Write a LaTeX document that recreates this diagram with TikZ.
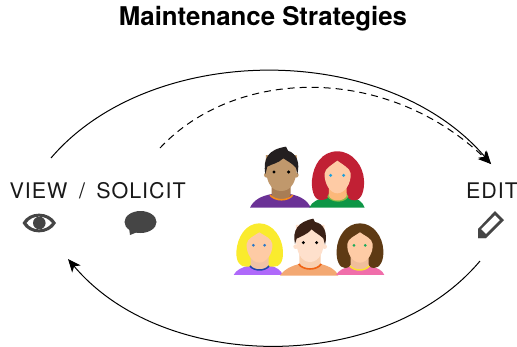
\documentclass[tikz,border=0pt]{standalone}
\usepackage{fontspec}
\setmainfont{TeX Gyre Heros}
\newfontfamily\spaced[LetterSpace=4.5]{TeX Gyre Heros}
\usetikzlibrary{arrows.meta}
\definecolor{icon}{HTML}{454545}
\definecolor{purpleA}{HTML}{6B3296}
\definecolor{neckA}{HTML}{A87D55}
\definecolor{orangeA}{HTML}{F58C1E}
\definecolor{skinA}{HTML}{C0986C}
\definecolor{hairA}{HTML}{231F20}
\definecolor{greenB}{HTML}{0E9646}
\definecolor{redB}{HTML}{C12034}
\definecolor{collarB}{HTML}{82BE46}
\definecolor{neckB}{HTML}{FCB87A}
\definecolor{skinB}{HTML}{FECBA5}
\definecolor{eyeB}{HTML}{1EA0DC}
\definecolor{lilacC}{HTML}{AF69FA}
\definecolor{yellowC}{HTML}{FAEB2D}
\definecolor{neckC}{HTML}{F0C3A5}
\definecolor{collarC}{HTML}{1E46AA}
\definecolor{eyeC}{HTML}{2878C8}
\definecolor{shirtD}{HTML}{F3A872}
\definecolor{neckD}{HTML}{F8D0B0}
\definecolor{collarD}{HTML}{F06414}
\definecolor{skinD}{HTML}{FEE0CC}
\definecolor{hairD}{HTML}{3A2116}
\definecolor{pinkE}{HTML}{F06EAA}
\definecolor{hairE}{HTML}{5E3A14}
\definecolor{neckE}{HTML}{F0BE9B}
\definecolor{collarE}{HTML}{FAE132}
\definecolor{eyeE}{HTML}{19AA5A}
\tikzset{
  conn/.style={line width=1pt,-{Stealth[length=13pt,width=11pt,inset=3.5pt]}},
  lab/.style={inner sep=0pt,font=\fontsize{21.5}{25}\selectfont\spaced,text=black!90},
}
\begin{document}
\begin{tikzpicture}[x=1pt,y=-1pt]
\useasboundingbox (0,0) rectangle (517,346);
\node[inner sep=0pt,font=\fontsize{25.8}{30}\selectfont\bfseries] (title) at (263,19) {Maintenance Strategies};
\node[lab] (view) at (38.5,191) {VIEW};
\node[lab] (slash) at (82,191) {/};
\node[lab] (solicit) at (141,191) {SOLICIT};
\node[lab] (edit) at (492,191) {EDIT};
\coordinate (a1) at (51,158);
\coordinate (a2) at (491,164);
\coordinate (b1) at (160,148);
\coordinate (c1) at (480,261);
\coordinate (c2) at (68,259);
\draw[conn] (a1) .. controls (150,42) and (385,40) .. (a2);
\draw[conn,dash pattern=on 7pt off 5pt] (b1) .. controls (235,68) and (385,63) .. (a2);
\draw[conn] (c1) .. controls (385,374) and (165,374) .. (c2);
% eye
\fill[icon,even odd rule] (22.5,223) .. controls (29,210.5) and (49,210.5) .. (56,223) .. controls (49,235.5) and (29,235.5) .. (22.5,223) -- cycle
  (26.5,223) .. controls (32,214.5) and (46,214.5) .. (52,223) .. controls (46,231.5) and (32,231.5) .. (26.5,223) -- cycle;
\fill[icon] (39.3,223) circle (6.3);
% bubble
\fill[icon] (140.5,222) ellipse (16 and 11);
\fill[icon] (129,228) -- (130,235) -- (140,231) -- cycle;
% pencil
\fill[icon,even odd rule] (495,211) -- (504,220) -- (486,238) -- (478,238) -- (478,229) -- cycle
 (495,215) -- (500,220) -- (486,234) -- (481,229) -- cycle;
\fill[icon] (478,229) -- (486,238) -- (478,238) -- cycle;
% people, in zoom coordinates
\begin{scope}[shift={(230,140)},x=.3333pt,y=-.3333pt]
 % man 1
 \fill[purpleA] (60,203) .. controls (72,178) and (95,168) .. (125,162) -- (180,162) .. controls (210,168) and (232,180) .. (242,203) -- cycle;
 \fill[neckA] (125,130) -- (182,130) -- (182,165) .. controls (170,186) and (135,186) .. (125,165) -- cycle;
 \draw[orangeA,line width=1.6pt] (120,165) .. controls (135,184) and (175,184) .. (188,165);
 \fill[skinA] (108,45) .. controls (102,130) and (125,153) .. (153,153) .. controls (182,153) and (206,130) .. (200,45) -- cycle;
 \fill[skinA] (110,105) circle (8) (198,105) circle (8);
 \fill[hairA] (106,103) .. controls (98,55) and (115,28) .. (168,20) -- (174,32) .. controls (202,42) and (210,70) .. (202,102) -- (198,84) .. controls (190,72) and (170,62) .. (160,55) .. controls (145,70) and (125,72) .. (112,80) -- cycle;
 \fill[black] (132,96) circle (5) (176,96) circle (5);
 % woman red
 \fill[greenB] (238,203) .. controls (245,185) and (265,176) .. (295,170) -- (355,170) .. controls (385,176) and (398,185) .. (404,203) -- cycle;
 \fill[redB] (322,34) .. controls (370,34) and (400,80) .. (402,120) .. controls (404,150) and (395,180) .. (375,181) .. controls (360,181) and (350,175) .. (350,160) -- (300,160) .. controls (298,175) and (285,181) .. (270,180) .. controls (250,178) and (244,145) .. (246,120) .. controls (250,75) and (275,34) .. (322,34) -- cycle;
 \fill[collarB] (292,170) .. controls (305,190) and (345,190) .. (355,170) -- (350,160) -- (297,160) -- cycle;
 \fill[neckB] (297,140) -- (350,140) -- (350,168) .. controls (340,186) and (305,186) .. (297,168) -- cycle;
 \fill[skinB] (322,62) .. controls (340,75) and (360,85) .. (362,100) .. controls (364,130) and (345,160) .. (322,160) .. controls (300,160) and (282,130) .. (284,100) .. controls (286,85) and (305,75) .. (322,62) -- cycle;
 \fill[eyeB] (302,106) circle (5) (341,106) circle (5);
 % woman blonde
 \fill[lilacC] (11,405) .. controls (18,390) and (35,382) .. (60,376) -- (120,376) .. controls (140,382) and (155,392) .. (158,405) -- cycle;
 \fill[yellowC] (88,250) .. controls (130,250) and (158,295) .. (159,335) .. controls (160,365) and (150,382) .. (130,380) -- (50,380) .. controls (30,382) and (18,365) .. (19,335) .. controls (22,290) and (48,250) .. (88,250) -- cycle;
 \fill[neckC] (62,345) -- (116,345) -- (116,380) .. controls (105,392) and (70,392) .. (62,380) -- cycle;
 \draw[collarC,line width=1.5pt] (60,378) .. controls (72,394) and (105,394) .. (117,378);
 \fill[skinB] (88,277) .. controls (105,288) and (125,295) .. (127,312) .. controls (129,340) and (110,368) .. (88,368) .. controls (66,368) and (48,340) .. (50,312) .. controls (52,295) and (72,288) .. (88,277) -- cycle;
 \fill[eyeC] (70,316) circle (4.5) (104,316) circle (4.5);
 % man 2
 \fill[shirtD] (150,407) .. controls (165,385) and (185,378) .. (208,372) -- (272,372) .. controls (295,378) and (315,385) .. (325,407) -- cycle;
 \fill[neckD] (208,340) -- (272,340) -- (272,375) .. controls (260,392) and (220,392) .. (208,375) -- cycle;
 \draw[collarD,line width=1.6pt] (206,372) .. controls (220,392) and (260,392) .. (274,372);
 \fill[skinD] (198,255) .. controls (192,340) and (215,366) .. (240,366) .. controls (265,366) and (290,340) .. (283,255) -- cycle;
 \fill[skinD] (197,320) circle (7) (284,320) circle (7);
 \fill[hairD] (195,312) .. controls (186,270) and (205,245) .. (250,236) -- (255,246) .. controls (282,250) and (294,280) .. (285,314) -- (280,295) .. controls (270,285) and (255,278) .. (245,268) .. controls (230,285) and (210,290) .. (200,296) -- cycle;
 \fill[black] (220,308) circle (5) (260,308) circle (5);
 % woman brunette
 \fill[pinkE] (318,405) .. controls (325,392) and (340,384) .. (362,378) -- (420,378) .. controls (445,384) and (458,392) .. (463,405) -- cycle;
 \fill[hairE] (390,250) .. controls (430,250) and (458,290) .. (460,330) .. controls (462,362) and (450,384) .. (432,384) .. controls (420,384) and (413,375) .. (413,365) -- (365,365) .. controls (365,378) and (355,384) .. (345,384) .. controls (328,384) and (318,360) .. (320,330) .. controls (322,288) and (350,250) .. (390,250) -- cycle;
 \fill[neckE] (362,345) -- (416,345) -- (416,380) .. controls (405,394) and (372,394) .. (362,380) -- cycle;
 \draw[collarE,line width=1.5pt] (360,378) .. controls (372,394) and (405,394) .. (418,378);
 \fill[skinB] (390,277) .. controls (405,288) and (426,295) .. (428,312) .. controls (430,340) and (412,368) .. (390,368) .. controls (368,368) and (350,340) .. (352,312) .. controls (354,295) and (375,288) .. (390,277) -- cycle;
 \fill[eyeE] (372,316) circle (4.5) (406,316) circle (4.5);
\end{scope}
\end{tikzpicture}
\end{document}
